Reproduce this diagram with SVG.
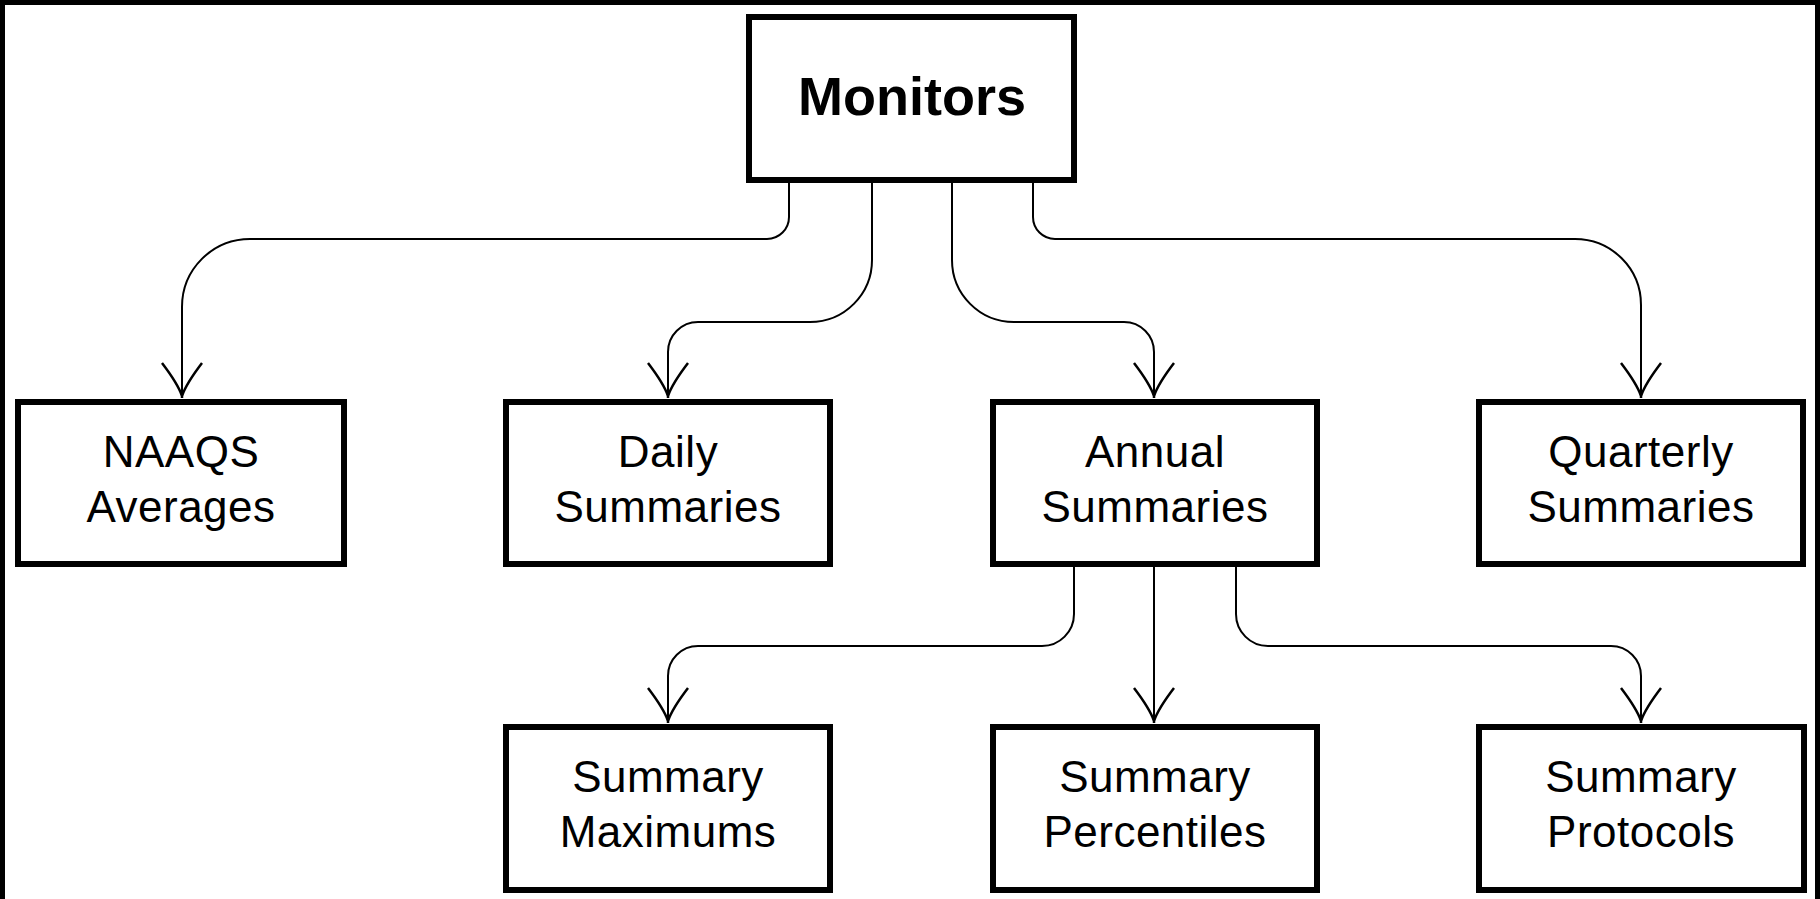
<svg xmlns="http://www.w3.org/2000/svg" width="1820" height="899" viewBox="0 0 1820 899">
<style>
.box{fill:#fff;stroke:#000;stroke-width:6}
.lbl{font-family:"Liberation Sans",Arial,sans-serif;font-size:44px;letter-spacing:0.5px;fill:#000;text-anchor:middle}
.title{font-family:"Liberation Sans",Arial,sans-serif;font-size:54px;font-weight:bold;fill:#000;text-anchor:middle}
.conn{fill:none;stroke:#000;stroke-width:2}
</style>
<defs>
<marker id="arr" markerUnits="userSpaceOnUse" markerWidth="50" markerHeight="50" viewBox="-40 -25 45 50" refX="0" refY="0" orient="auto">
<path d="M-35,-20 Q-14,-4 -2,0 M-35,20 Q-14,4 -2,0 M-8,0 H0" fill="none" stroke="#000" stroke-width="2.5"/>
</marker>
</defs>
<rect x="0" y="0" width="1820" height="899" fill="#000"/>
<rect x="5" y="5" width="1810" height="894" fill="#fff"/>
<g id="connectors">
<path class="conn" marker-end="url(#arr)" d="M789,182 V217 A22,22 0 0 1 767,239 H250 A68,68 0 0 0 182,307 V398"/>
<path class="conn" marker-end="url(#arr)" d="M872,182 V260 A62,62 0 0 1 810,322 H698 A30,30 0 0 0 668,352 V398"/>
<path class="conn" marker-end="url(#arr)" d="M952,182 V260 A62,62 0 0 0 1014,322 H1124 A30,30 0 0 1 1154,352 V398"/>
<path class="conn" marker-end="url(#arr)" d="M1033,182 V217 A22,22 0 0 0 1055,239 H1575 A66,66 0 0 1 1641,305 V398"/>
<path class="conn" marker-end="url(#arr)" d="M1074,566 V614 A32,32 0 0 1 1042,646 H698 A30,30 0 0 0 668,676 V723"/>
<path class="conn" marker-end="url(#arr)" d="M1154,566 V723"/>
<path class="conn" marker-end="url(#arr)" d="M1236,566 V614 A32,32 0 0 0 1268,646 H1611 A30,30 0 0 1 1641,676 V723"/>
</g>
<g id="monitors">
<rect class="box" x="749" y="17" width="325" height="163"/>
<text class="title" x="912" y="115">Monitors</text>
</g>
<g id="naaqs">
<rect class="box" x="18" y="402" width="326" height="162"/>
<text class="lbl" x="181" y="467">NAAQS</text>
<text class="lbl" x="181" y="522">Averages</text>
</g>
<g id="daily">
<rect class="box" x="506" y="402" width="324" height="162"/>
<text class="lbl" x="668" y="467">Daily</text>
<text class="lbl" x="668" y="522">Summaries</text>
</g>
<g id="annual">
<rect class="box" x="993" y="402" width="324" height="162"/>
<text class="lbl" x="1155" y="467">Annual</text>
<text class="lbl" x="1155" y="522">Summaries</text>
</g>
<g id="quarterly">
<rect class="box" x="1479" y="402" width="324" height="162"/>
<text class="lbl" x="1641" y="467">Quarterly</text>
<text class="lbl" x="1641" y="522">Summaries</text>
</g>
<g id="maximums">
<rect class="box" x="506" y="727" width="324" height="163"/>
<text class="lbl" x="668" y="792">Summary</text>
<text class="lbl" x="668" y="847">Maximums</text>
</g>
<g id="percentiles">
<rect class="box" x="993" y="727" width="324" height="163"/>
<text class="lbl" x="1155" y="792">Summary</text>
<text class="lbl" x="1155" y="847">Percentiles</text>
</g>
<g id="protocols">
<rect class="box" x="1479" y="727" width="325" height="163"/>
<text class="lbl" x="1641" y="792">Summary</text>
<text class="lbl" x="1641" y="847">Protocols</text>
</g>
</svg>
